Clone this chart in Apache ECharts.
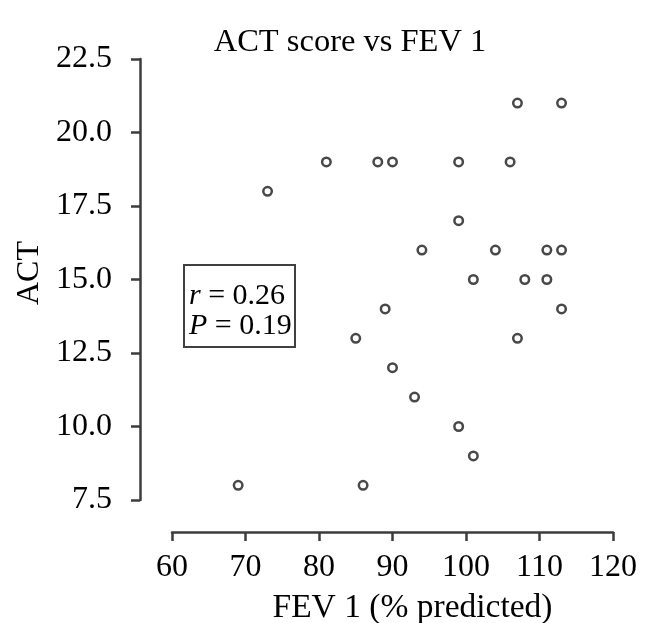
<!DOCTYPE html>
<html>
<head>
<meta charset="utf-8">
<script src="https://cdn.jsdelivr.net/npm/echarts@6/dist/echarts.min.js"></script>
<style>
  html, body { margin: 0; padding: 0; background: #ffffff; }
  #chart { width: 646px; height: 623px; }
</style>
</head>
<body>
<div id="chart"></div>
<script>
// FEV1 (% predicted) and ACT score per patient
const fevPredicted = [69, 73, 81, 88, 90, 99, 106, 107, 113, 99, 94, 104, 111, 113, 101, 108, 111, 89, 113, 85, 107, 90, 93, 99, 101, 86];
const actScore     = [ 8, 18, 19, 19, 19, 19,  19,  21,  21, 17, 16,  16,  16,  16,  15,  15,  15, 14,  14, 13,  13, 12, 11, 10,   9,  8];

// Axis ranges: [min, max, step]
const xRange = [60, 120, 10];
const yRange = [7.5, 22.5, 2.5];

// Correlation statistics shown in the box
const statR = '0.26';
const statP = '0.19';

const serif = 'Liberation Serif';
const ink = '#000000';
const axisInk = '#3c3c3c';

const points = fevPredicted.map((x, i) => [x, actScore[i]]);

const chart = echarts.init(document.getElementById('chart'), null, { renderer: 'canvas' });

chart.setOption({
  backgroundColor: '#ffffff',
  animation: false,
  title: [
    {
      text: 'ACT score vs FEV 1',
      left: 350,
      top: 26,
      textAlign: 'center',
      padding: 0,
      textStyle: { fontFamily: serif, fontSize: 32.5, fontWeight: 'normal', color: ink }
    },
    {
      text: '{i|r} = ' + statR + '\n{i|P} = ' + statP,
      left: 184,
      top: 265,
      padding: [16, 4, 6, 5],
      borderColor: '#404040',
      borderWidth: 2,
      textStyle: {
        fontFamily: serif, fontSize: 30, fontWeight: 'normal', color: ink, lineHeight: 30,
        rich: { i: { fontFamily: serif, fontSize: 30, fontStyle: 'italic', color: ink, lineHeight: 30 } }
      }
    }
  ],
  grid: { left: 172, right: 33, top: 59, bottom: 123, containLabel: false, outerBoundsMode: 'none' },
  xAxis: {
    type: 'value',
    min: xRange[0], max: xRange[1], interval: xRange[2],
    offset: 32,
    name: 'FEV 1 (% predicted)',
    nameLocation: 'middle',
    nameGap: 59,
    nameTextStyle: { fontFamily: serif, fontSize: 33.5, color: ink, padding: [0, 0, 0, 40] },
    axisLine: { show: true, lineStyle: { color: axisInk, width: 2.5 } },
    axisTick: { show: true, inside: false, length: 9, lineStyle: { color: axisInk, width: 2.5 } },
    axisLabel: { fontFamily: serif, fontSize: 32, color: ink, margin: 20 },
    splitLine: { show: false }
  },
  yAxis: {
    type: 'value',
    min: yRange[0], max: yRange[1], interval: yRange[2],
    offset: 32,
    name: 'ACT',
    nameLocation: 'middle',
    nameGap: 92,
    nameRotate: 90,
    nameTextStyle: { fontFamily: serif, fontSize: 32, color: ink, padding: [0, 0, 0, 13] },
    axisLine: { show: true, lineStyle: { color: axisInk, width: 2.5 } },
    axisTick: { show: true, inside: false, length: 9, lineStyle: { color: axisInk, width: 2.5 } },
    axisLabel: {
      fontFamily: serif, fontSize: 32, color: ink, margin: 28,
      formatter: v => v.toFixed(1)
    },
    splitLine: { show: false }
  },
  series: [{
    type: 'scatter',
    data: points,
    symbol: 'circle',
    symbolSize: 8.5,
    itemStyle: { color: '#ffffff', borderColor: '#484848', borderWidth: 2.5, opacity: 1 },
    emphasis: { disabled: true }
  }]
});
</script>
</body>
</html>
